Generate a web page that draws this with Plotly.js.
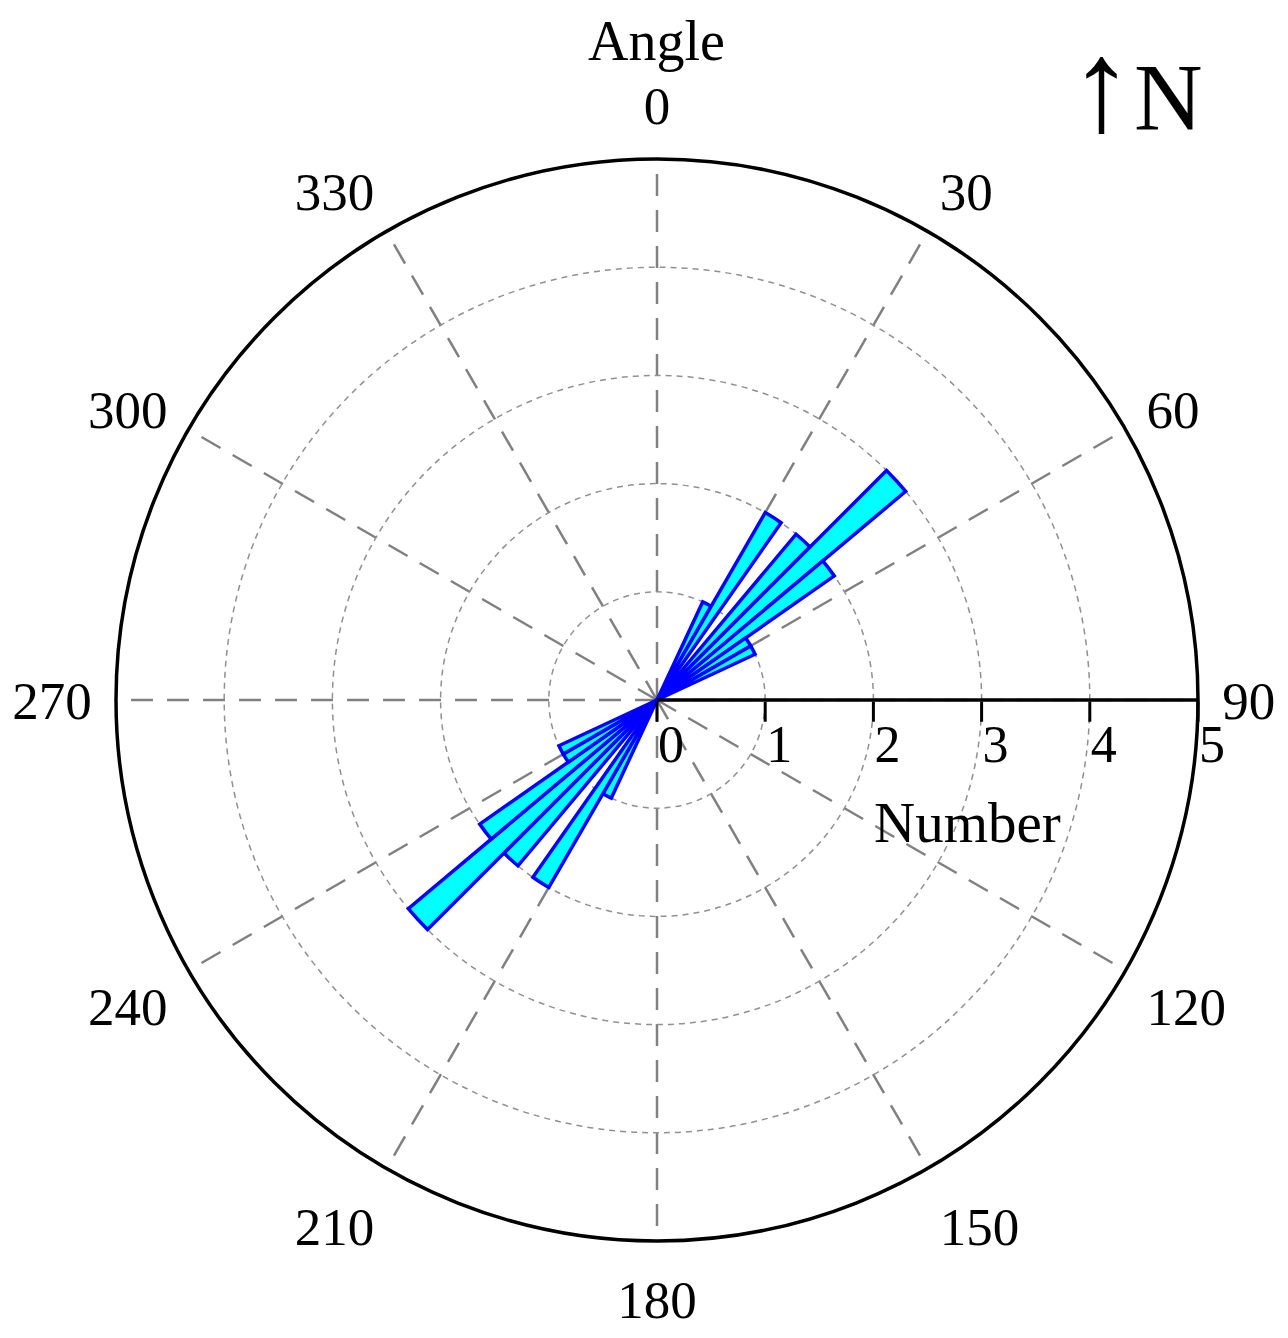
<!DOCTYPE html>
<html>
<head>
<meta charset="utf-8">
<script src="https://cdn.plot.ly/plotly-3.0.1.min.js"></script>
<style>
  html, body { margin: 0; padding: 0; background: #fff; }
  #plot { width: 1288px; height: 1338px; }
</style>
</head>
<body>
<div id="plot"></div>
<script>
// bin centres (degrees, clockwise from north), 5 degree bins
var binCenters = [27.5, 32.5, 42.5, 47.5, 52.5, 57.5, 62.5,
                  207.5, 212.5, 222.5, 227.5, 232.5, 237.5, 242.5];
// number of measurements in each bin
var counts = [1, 2, 2, 3, 2, 1, 1,
              1, 2, 2, 3, 2, 1, 1];

var angleTicks = [0, 30, 60, 90, 120, 150, 180, 210, 240, 270, 300, 330];
var radialTicks = [0, 1, 2, 3, 4, 5];

var serif = "Liberation Serif, Times New Roman, serif";

var trace = {
  type: "barpolar",
  r: counts,
  theta: binCenters,
  width: 5,
  marker: {
    color: "#00FFFF",
    line: { color: "#0000FF", width: 3.5 }
  },
  hoverinfo: "r+theta"
};

var layout = {
  width: 1288,
  height: 1338,
  margin: { l: 0, r: 0, t: 0, b: 0 },
  paper_bgcolor: "#fff",
  showlegend: false,
  font: { family: serif, size: 52, color: "#000" },
  polar: {
    domain: { x: [116 / 1288, 1198 / 1288], y: [97 / 1338, 1179 / 1338] },
    bgcolor: "#fff",
    angularaxis: {
      rotation: 90,
      direction: "clockwise",
      tickvals: angleTicks,
      ticktext: angleTicks.map(String),
      // invisible outer ticks only push the labels away from the rim
      ticks: "outside",
      ticklen: 12,
      tickwidth: 1,
      tickcolor: "rgba(0,0,0,0)",
      showline: true,
      linecolor: "#000",
      linewidth: 3.5,
      showgrid: true,
      gridcolor: "#808080",
      gridwidth: 2.5,
      griddash: "22px,14px",
      tickfont: { family: serif, size: 53, color: "#000" }
    },
    radialaxis: {
      range: [0, 5],
      angle: 0,
      tickvals: radialTicks,
      ticks: "outside",
      ticklen: 20,
      tickwidth: 3,
      tickcolor: "#000",
      showline: true,
      linecolor: "#000",
      linewidth: 3.5,
      showgrid: true,
      gridcolor: "#909090",
      gridwidth: 1.5,
      griddash: "6px,5px",
      tickfont: { family: serif, size: 52, color: "#000" }
    }
  },
  annotations: [
    {
      text: "Angle", xref: "paper", yref: "paper",
      x: 657 / 1288, y: 1 - 41 / 1338, xanchor: "center", yanchor: "middle",
      showarrow: false, font: { family: serif, size: 56, color: "#000" }
    },
    {
      text: "Number", xref: "paper", yref: "paper",
      x: 967 / 1288, y: 1 - 822 / 1338, xanchor: "center", yanchor: "middle",
      showarrow: false, font: { family: serif, size: 57, color: "#000" }
    },
    {
      text: '<span style="font-size:130px">↑</span>N', xref: "paper", yref: "paper",
      x: 1136 / 1288, y: 1 - 86 / 1338, xanchor: "center", yanchor: "middle",
      showarrow: false, font: { family: serif, size: 95, color: "#000" }
    }
  ]
};

Plotly.newPlot("plot", [trace], layout, { displayModeBar: false, staticPlot: true })
  .then(function () {
    // nudge the radial tick labels: just right of each tick, close under the axis line
    document.querySelectorAll("#plot .radial-axis .xtick text").forEach(function (t) {
      var tr = t.getAttribute("transform") || "";
      t.setAttribute("transform", tr + " translate(14,-22)");
    });
  });
</script>
</body>
</html>
